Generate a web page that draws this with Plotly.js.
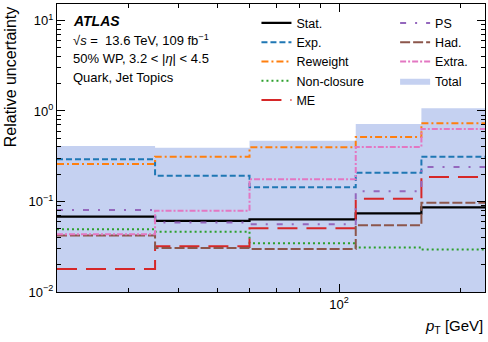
<!DOCTYPE html>
<html>
<head>
<meta charset="utf-8">
<script src="https://cdn.plot.ly/plotly-3.0.1.min.js"></script>
<style>
  body { margin: 0; background: #fff; }
  #chart { width: 488px; height: 342px; }
</style>
</head>
<body>
<div id="chart"></div>
<script>
// pT bin edges [GeV]
var edges = [20, 35, 60, 110, 160, 230];

// relative uncertainties per bin
var stat       = [0.068, 0.061, 0.0635, 0.074, 0.086];
var expUnc     = [0.292, 0.193, 0.1435, 0.208, 0.313];
var reweight   = [0.26, 0.313, 0.397, 0.516, 0.73];
var nonClosure = [0.0493, 0.0464, 0.0345, 0.031, 0.0294];
var me         = [0.018, 0.032, 0.0505, 0.107, 0.187];
var ps         = [0.0805, 0.0585, 0.056, 0.13, 0.24];
var had        = [0.042, 0.0306, 0.0299, 0.0546, 0.097];
var extra      = [0.0435, 0.079, 0.176, 0.40, 0.632];
var total      = [0.41, 0.393, 0.47, 0.72, 1.07];
var floorVal   = [0.001, 0.001, 0.001, 0.001, 0.001];

// repeat last bin so the hv step closes at the right edge
function stepY(arr) {
    return arr.concat([arr[arr.length - 1]]);
}

function stepLine(name, vals, color, dash, legend, width) {
    return {
        x: edges, y: stepY(vals), name: name,
        type: 'scatter', mode: 'lines',
        line: {shape: 'hv', color: color, dash: dash, width: width || 2},
        legend: legend
    };
}

var base = {
    x: edges, y: stepY(floorVal), type: 'scatter', mode: 'lines',
    line: {shape: 'hv', width: 0}, showlegend: false, hoverinfo: 'skip'
};

var totalBand = {
    x: edges, y: stepY(total), name: 'Total',
    type: 'scatter', mode: 'lines',
    line: {shape: 'hv', width: 0},
    fill: 'tonexty', fillcolor: 'rgb(197,209,241)',
    legend: 'legend2', legendrank: 2000
};

var data = [
    base, totalBand,
    stepLine('Stat.', stat, '#000000', 'solid', 'legend', 2.2),
    stepLine('Exp.', expUnc, '#1f77b4', '6px,3px', 'legend'),
    stepLine('Reweight', reweight, '#ff7f0e', '7px,3px,2px,3px', 'legend'),
    stepLine('Non-closure', nonClosure, '#2ca02c', '2px,3px', 'legend'),
    stepLine('ME', me, '#d62728', '20px,9px', 'legend'),
    stepLine('PS', ps, '#9467bd', '6px,9px,2px,9px', 'legend2'),
    stepLine('Had.', had, '#8c564b', '10px,3px', 'legend2'),
    stepLine('Extra.', extra, '#e377c2', '6px,2px,2px,2px', 'legend2')
];

// minor tick positions for the log axes
var yMinor = [];
[0.01, 0.1, 1].forEach(function (d) {
    for (var k = 2; k <= 9; k++) yMinor.push(d * k);
});
var xMinor = [20, 30, 40, 50, 60, 70, 80, 90, 200];

var font = 'Liberation Sans, Arial, sans-serif';

var layout = {
    width: 488, height: 342,
    margin: {l: 57, r: 3, t: 4, b: 50},
    paper_bgcolor: '#fff', plot_bgcolor: '#fff',
    font: {family: font, size: 13, color: '#000'},
    showlegend: true,
    xaxis: {
        type: 'log', range: [Math.log10(20), Math.log10(230)],
        tickmode: 'array', tickvals: [100], ticktext: ['10<sup>2</sup>'],
        ticks: 'inside', ticklen: 8, tickcolor: '#000',
        minor: {ticks: 'inside', ticklen: 4, tickcolor: '#000', tickmode: 'array', tickvals: xMinor, showgrid: false},
        showline: true, linecolor: '#000', linewidth: 1, mirror: 'ticks',
        showgrid: false, zeroline: false,
        tickfont: {size: 13}
    },
    yaxis: {
        type: 'log', range: [-2, Math.log10(15.2)],
        tickmode: 'array', tickvals: [0.01, 0.1, 1, 10],
        ticktext: ['10<sup>\u22122</sup>', '10<sup>\u22121</sup>', '10<sup>0</sup>', '10<sup>1</sup>'],
        ticks: 'inside', ticklen: 8, tickcolor: '#000',
        minor: {ticks: 'inside', ticklen: 4, tickcolor: '#000', tickmode: 'array', tickvals: yMinor, showgrid: false},
        showline: true, linecolor: '#000', linewidth: 1, mirror: 'ticks',
        showgrid: false, zeroline: false,
        tickfont: {size: 13}
    },
    legend: {
        x: 0.466, y: 0.985, xanchor: 'left', yanchor: 'top', traceorder: 'normal',
        bgcolor: 'rgba(0,0,0,0)', font: {size: 12.5}, itemwidth: 30
    },
    legend2: {
        x: 0.79, y: 0.985, xanchor: 'left', yanchor: 'top', traceorder: 'normal',
        bgcolor: 'rgba(0,0,0,0)', font: {size: 12.5}, itemwidth: 30
    },
    annotations: [
        {text: '<b><i>ATLAS</i></b>', x: 0.033, y: 0.941, xref: 'paper', yref: 'paper',
         xanchor: 'left', yanchor: 'middle', showarrow: false, font: {size: 14}},
        {text: '\u221A<i>s</i> =  13.6 TeV, 109 fb<sup>\u22121</sup>', x: 0.033, y: 0.875, xref: 'paper', yref: 'paper',
         xanchor: 'left', yanchor: 'middle', showarrow: false, font: {size: 13}},
        {text: '50% WP, 3.2 < |<i>\u03B7</i>| < 4.5', x: 0.033, y: 0.8125, xref: 'paper', yref: 'paper',
         xanchor: 'left', yanchor: 'middle', showarrow: false, font: {size: 13}},
        {text: 'Quark, Jet Topics', x: 0.033, y: 0.7465, xref: 'paper', yref: 'paper',
         xanchor: 'left', yanchor: 'middle', showarrow: false, font: {size: 13}},
        {text: 'Relative uncertainty', x: -0.108, y: 1, xref: 'paper', yref: 'paper',
         xanchor: 'center', yanchor: 'top', textangle: -90, showarrow: false, font: {size: 16}},
        {text: '<i>p</i><sub>T</sub> [GeV]', x: 1, y: -0.12, xref: 'paper', yref: 'paper',
         xanchor: 'right', yanchor: 'middle', showarrow: false, font: {size: 15}}
    ]
};

Plotly.newPlot('chart', data, layout, {displayModeBar: false, staticPlot: true});
</script>
</body>
</html>
